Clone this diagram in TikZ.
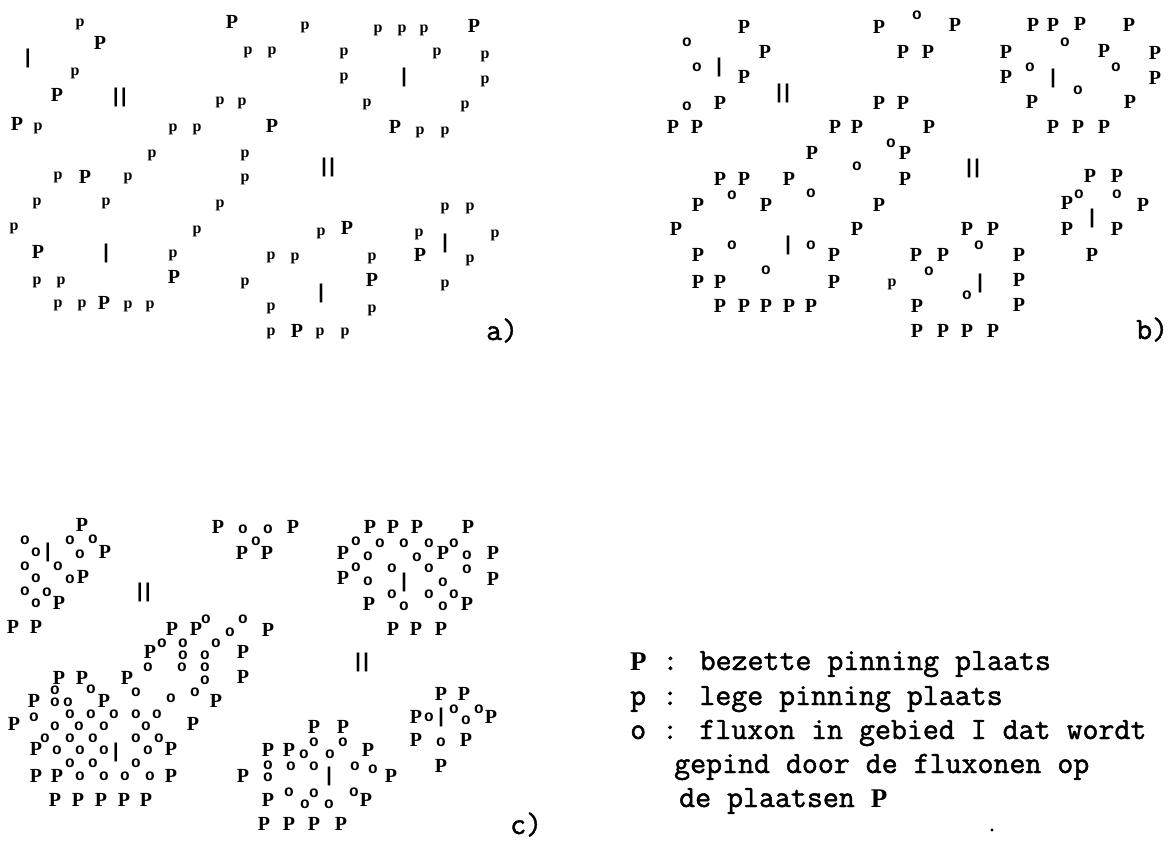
\documentclass[tikz,border=0pt]{standalone}
\usepackage{fontspec}
\newfontfamily\tikmono{Liberation Mono}
\newfontfamily\tikserif{Liberation Serif}
\newfontfamily\tiktype[FakeBold=1.5]{Latin Modern Mono}
\usetikzlibrary{positioning}
\newcommand\legP{\makebox[16.3pt][l]{\tikserif\bfseries\fontsize{27}{27}\selectfont P}}

\begin{document}
\begin{tikzpicture}[x=1pt,y=-1pt,
  groot/.style={font=\tikserif\bfseries\fontsize{20}{20}\selectfont,inner sep=0pt},
  klein/.style={font=\tikserif\bfseries\fontsize{16}{16}\selectfont,inner sep=0pt},
  flux/.style={font=\tikmono\bfseries\fontsize{16}{16}\selectfont,inner sep=0pt},
  streep/.style={font=\tikmono\bfseries\fontsize{20}{20}\selectfont,inner sep=0pt},
  legenda/.style={font=\tiktype\fontsize{31}{31}\selectfont,anchor=base west,inner sep=0pt}]

  \useasboundingbox (0,0) rectangle (1168,848);

  % a) bezette en lege plaatsen
  \foreach \x/\y in {100/43,57/95,17/124,232/22,272/126,474/26,395/127,85/177,38/252,
      174/277,104/303,347/228,420/255,372/280,297/331}
    \node[groot] at (\x,\y) {P};
  \foreach \x/\y in {80/24,75/73,38/128,248/52,272/52,220/102,242/103,173/129,197/129,
      152/155,245/155,305/27,378/30,402/30,424/30,344/53,437/53,485/56,344/78,485/81,
      367/104,465/106,420/132,445/132,58/177,128/178,245/179,37/203,106/203,220/205,
      14/228,197/231,173/255,271/257,37/282,61/282,245/283,58/305,82/305,128/306,
      150/306,271/308,271/333,445/208,470/208,321/233,419/234,495/235,295/258,372/258,
      470/260,445/285,372/310,320/333,345/333}
    \node[klein] at (\x,\y) {p};
  \foreach \x/\y in {28/58,404/77,106/253,445/243,321/293}
    \node[streep] at (\x,\y) {|};
  \foreach \x/\y in {120/97,328/167}
    \node[streep] at (\x,\y) {|\kern-4pt|};
  \node[legenda] (la) at (486,340) {a)};

  % b)
  \foreach \x/\y in {744/27,765/52,744/77,720/103,673/127,697/127,879/27,955/25,903/52,
      928/52,879/103,903/103,835/127,857/127,929/127,812/153,905/153,1033/25,1053/25,
      1080/24,1129/25,1006/52,1104/51,1155/53,1006/77,1155/78,1032/102,1130/102,
      1053/127,1078/127,1104/127,905/179,720/179,744/179,789/179,698/205,766/205,
      879/205,676/229,857/229,834/255,698/255,698/282,720/282,834/282,916/255,720/306,
      744/306,766/306,789/306,811/306,917/306,917/331,943/331,967/331,993/331,1090/176,
      1117/176,1067/203,1143/205,1067/229,1117/229,1092/255,967/229,993/229,943/255,
      1019/255,1019/280,1019/305}
    \node[groot] at (\x,\y) {P};
  \node[klein] at (892,284) {p};
  \foreach \x/\y in {687/42,697/67,687/106,917/15,891/143,857/166,1065/42,1116/67,
      1030/67,1078/90,732/195,811/193,732/245,811/245,766/270,929/271,1117/194,
      1079/194,979/245,967/295}
    \node[flux] at (\x,\y) {o};
  \foreach \x/\y in {719/67,1053/78,788/245,1092/218,980/283}
    \node[streep] at (\x,\y) {|};
  \foreach \x/\y in {783/93,973/168}
    \node[streep] at (\x,\y) {|\kern-4pt|};
  \node[legenda] (lb) at (1136,339) {b)};

  % c)
  \foreach \x/\y in {82/525,105/552,83/577,59/603,13/627,36/627,
      218/527,293/527,242/553,267/553,
      370/527,393/527,417/527,468/527,343/553,443/553,493/553,343/578,493/579,
      369/604,467/604,393/629,416/629,441/629,
      172/629,196/629,268/630,150/652,243/652,59/678,82/678,127/678,243/677,
      34/701,104/701,216/701,14/724,193/724,36/749,171/749,36/776,57/776,171/776,
      55/800,78/800,101/800,124/800,146/800,
      314/727,343/727,268/750,289/750,368/750,243/776,391/776,268/800,366/800,
      264/824,289/824,314/824,341/824,
      441/694,464/694,416/717,491/717,416/740,466/740,441/766}
    \node[groot] at (\x,\y) {P};
  \foreach \x/\y in {25/540,36/552,70/540,93/539,80/554,25/566,58/566,36/578,70/579,
      25/591,47/592,36/603,
      243/529,268/529,256/541,
      356/541,368/556,380/543,404/543,429/543,454/543,417/557,467/555,356/567,368/581,
      392/568,429/568,467/569,443/582,392/594,404/606,429/594,443/606,454/594,
      206/619,230/632,243/619,162/643,183/643,183/655,205/655,216/643,
      148/667,182/667,205/667,136/692,205/680,
      55/690,55/702,68/702,91/689,171/698,195/692,
      34/717,70/714,91/714,114/714,136/714,157/714,
      55/726,79/726,104/726,146/726,
      45/738,70/738,93/738,136/738,159/738,
      57/750,80/750,104/750,148/750,
      70/763,93/763,136/763,
      80/776,104/776,125/776,150/776,
      314/742,343/742,304/754,330/754,
      268/765,268/777,291/766,314/766,355/766,373/769,
      289/792,314/793,305/804,329/804,354/792,
      429/717,454/709,466/720,479/709,441/742}
    \node[flux] at (\x,\y) {o};
  \foreach \x/\y in {48/552,404/582,116/752,329/776,441/717}
    \node[streep] at (\x,\y) {|};
  \foreach \x/\y in {144/592,362/662}
    \node[streep] at (\x,\y) {|\kern-4pt|};
  \node[legenda] (lc) at (510,834) {c)};

  % legenda
  \node[legenda] (l1) at (630,670) {\legP{} : bezette pinning plaats};
  \node[legenda] (l2) at (630,705) {p : lege pinning plaats};
  \node[legenda] (l3) at (630,739) {o : fluxon in gebied I dat wordt};
  \node[legenda] (l4) at (674,773) {gepind door de fluxonen op};
  \node[legenda] (l5) at (679,807) {de plaatsen \legP};
  \fill (992,830) circle (1.6);

\end{tikzpicture}
\end{document}
